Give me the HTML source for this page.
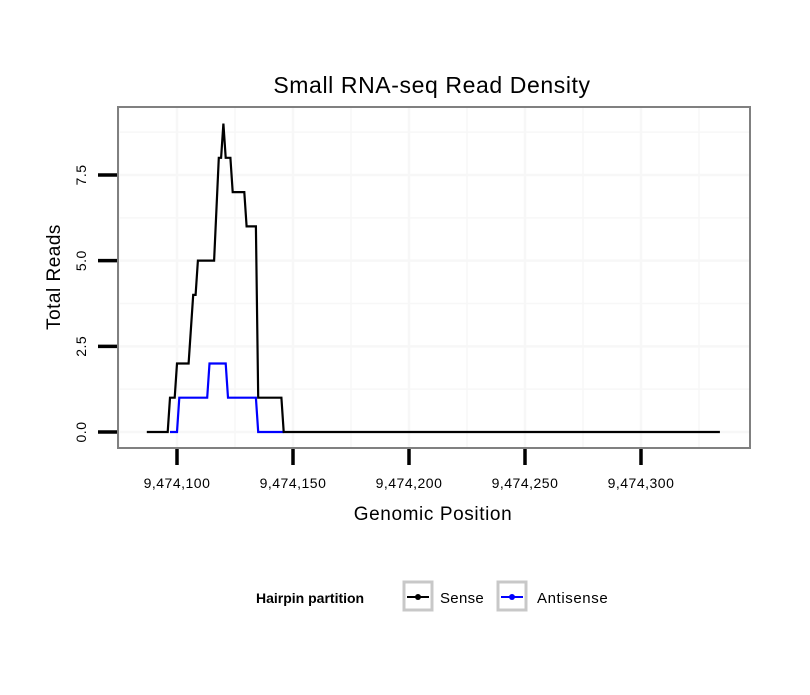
<!DOCTYPE html>
<html><head><meta charset="utf-8"><style>
body{margin:0;background:#fff;}
svg text{font-family:"Liberation Sans",Arial,sans-serif;}
</style></head><body>
<svg id="chart" width="810" height="690">
<text x="432" y="93" font-size="23" letter-spacing="0.6" text-anchor="middle">Small RNA-seq Read Density</text>
<g id="grid"></g>
<g id="series"></g>
<rect x="118" y="107" width="632" height="341" fill="none" stroke="#808080" stroke-width="2"/>
<g id="axes"></g>
<text x="433" y="520" font-size="19" letter-spacing="0.6" text-anchor="middle">Genomic Position</text>
<text transform="translate(60,277) rotate(-90)" font-size="19" letter-spacing="0.5" text-anchor="middle">Total Reads</text>
<g>
<text x="256" y="603" font-size="14" font-weight="bold">Hairpin partition</text>
<g>
<rect x="404" y="582" width="28" height="28" fill="#fff" stroke="#c8c8c8" stroke-width="3"/>
<line x1="407" y1="597" x2="429" y2="597" stroke="#000" stroke-width="2"/><circle cx="418" cy="597" r="3" fill="#000"/>
<text x="440" y="603" font-size="15" letter-spacing="0.3">Sense</text></g>
<g>
<rect x="498" y="582" width="28" height="28" fill="#fff" stroke="#c8c8c8" stroke-width="3"/>
<line x1="501" y1="597" x2="523" y2="597" stroke="#00f" stroke-width="2"/><circle cx="512" cy="597" r="3" fill="#00f"/>
<text x="537" y="603" font-size="15" letter-spacing="0.6">Antisense</text></g>
</g>
</svg>
<script>
const sensePos=[87,96,97,99,100,105,107,108,109,116,118,119,120,121,123,124,129,130,134,135,145,146,334];
const senseVals=[0,0,1,1,2,2,4,4,5,5,8,8,9,8,8,7,7,6,6,1,1,0,0];
const antiPos=[97,100,101,113,114,121,122,134,135,146];
const antiVals=[0,0,1,1,2,2,1,1,0,0];
const xTicks=[100,150,200,250,300];
const xTickLabels=["9,474,100","9,474,150","9,474,200","9,474,250","9,474,300"];
const yTicks=[0,2.5,5,7.5];
const yTickLabels=["0.0","2.5","5.0","7.5"];
const NS="http://www.w3.org/2000/svg";
function sx(p){return 177+(p-100)*2.32;}
function sy(v){return 432-v*34.27;}
function mk(tag,attrs,parent){const e=document.createElementNS(NS,tag);for(const k in attrs)e.setAttribute(k,attrs[k]);parent.appendChild(e);return e;}
const grid=document.getElementById('grid'),axes=document.getElementById('axes'),series=document.getElementById('series');
mk('rect',{x:118,y:107,width:632,height:341,fill:'#fff'},grid);
for(let v=-1.25;v<=10;v+=1.25){const y=sy(v);if(y<108||y>447)continue;
 const l=mk('line',{x1:119,x2:749,y1:y,y2:y,stroke:'#f7f7f7','stroke-width':(v%2.5===0)?2.5:1.5},grid);
 
 }
for(let p=75;p<=350;p+=25){const x=sx(p);if(x<119||x>749)continue;
 const l=mk('line',{x1:x,x2:x,y1:108,y2:447,stroke:'#f7f7f7','stroke-width':(p%50===0)?2.5:1.5},grid);
 
 }
function line(pos,vals,color,name){
 const d=pos.map((p,i)=>(i?'L':'M')+sx(p).toFixed(1)+','+sy(vals[i]).toFixed(1)).join('');
 const e=mk('path',{d:d,fill:'none',stroke:color,'stroke-width':2.2,'stroke-linejoin':'miter'},series);
 
 }
line(antiPos,antiVals,'#0000ff','antisense-line');
line(sensePos,senseVals,'#000000','sense-line');
xTicks.forEach((t,i)=>{const x=sx(t);
 const tk=mk('line',{x1:x,x2:x,y1:449,y2:465,stroke:'#000','stroke-width':3.5},axes);
 
 
 const tx=mk('text',{x:x,y:488,'font-size':14,'letter-spacing':0.5,'text-anchor':'middle'},axes);tx.textContent=xTickLabels[i];
 
 });
yTicks.forEach((t,i)=>{const y=sy(t);
 const tk=mk('line',{x1:98,x2:117,y1:y,y2:y,stroke:'#000','stroke-width':3.5},axes);
 
 
 const tx=mk('text',{transform:`translate(86,${y}) rotate(-90)`,'font-size':14,'letter-spacing':0.5,'text-anchor':'middle'},axes);tx.textContent=yTickLabels[i];
 
 });
</script>
</body></html>
